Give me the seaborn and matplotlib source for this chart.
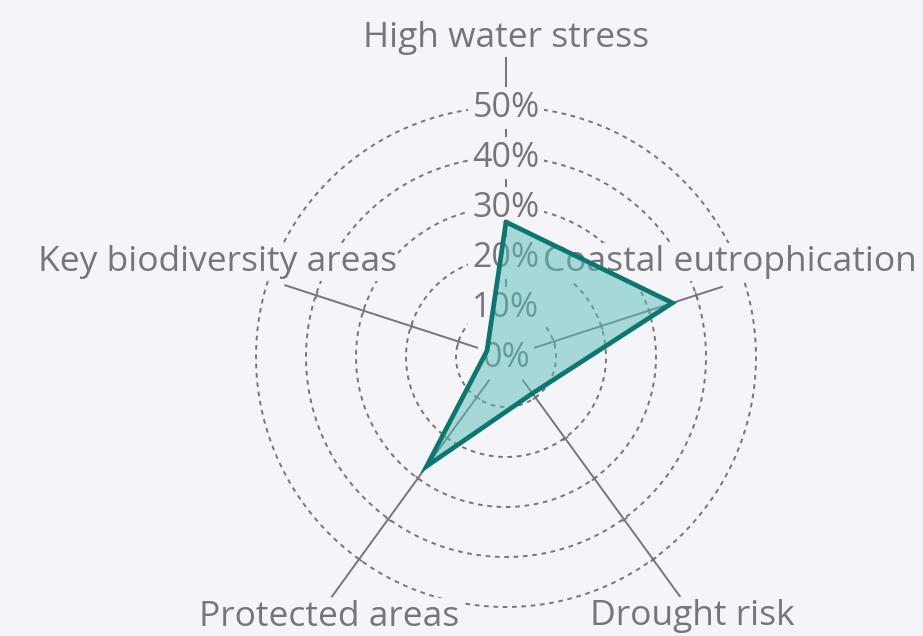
import numpy as np
import matplotlib
matplotlib.use("Agg")
import matplotlib.pyplot as plt
import seaborn as sns

# Share of sites exposed to each nature-related risk (%)
categories = ["High water stress", "Coastal eutrophication", "Drought risk",
              "Protected areas", "Key biodiversity areas"]
values = [27, 35, 9, 27, 4]
ring_levels = [10, 20, 30, 40, 50]
tick_levels = [0, 10, 20, 30, 40, 50]
tick_labels = ["0%", "10%", "20%", "30%", "40%", "50%"]

BG = "#f5f5f9"
GREY = "#76757e"
TEAL = "#0e7670"
FILL = "#57bdb7"

sns.set_theme(style="white")
plt.rcParams["font.family"] = ["Open Sans", "DejaVu Sans"]
FS_TICK = 24.5
FS_CAT = 25.5

W, H, DPI = 923, 636, 100
fig = plt.figure(figsize=(W / DPI, H / DPI), dpi=DPI, facecolor=BG)

# polar pane: centre at (506, 357) px, 5 px per percentage point
R_MAX = 66
PX = 5.0
cx, cy = 506, 357
rad_px = R_MAX * PX
ax = fig.add_axes([(cx - rad_px) / W, (H - cy - rad_px) / H,
                   2 * rad_px / W, 2 * rad_px / H], projection="polar")
ax.set_theta_zero_location("N")
ax.set_theta_direction(-1)
ax.set_ylim(0, R_MAX)
ax.set_axis_off()

n = len(categories)
theta = np.deg2rad(np.arange(n) * 360.0 / n)

# dashed concentric rings
full = np.linspace(0, 2 * np.pi, 400)
for lvl in ring_levels:
    ax.plot(full, np.full_like(full, lvl), color=GREY, lw=1.4,
            ls=(0, (2.4, 2.4)), zorder=1)

# spokes running out towards each category label, with ticks at the rings
spoke_inner = 5.6
spoke_outer = [60, 45.6, 59.6, 59.4, 46.6]
for th, r_out in zip(theta, spoke_outer):
    ax.plot([th, th], [spoke_inner, r_out], color=GREY, lw=1.4,
            solid_capstyle="butt", zorder=1)
    crossings = [lvl for lvl in ring_levels if lvl <= r_out]
    rot = 90 - np.rad2deg(th)
    ax.plot([th] * len(crossings), crossings, ls="none",
            marker=(2, 0, rot), ms=5, mew=1.2, mec=GREY, zorder=1)

# radial value labels along the top spoke
for lvl, txt in zip(tick_levels, tick_labels):
    ax.annotate(txt, xy=(0, lvl), xytext=(0, -1), textcoords="offset pixels",
                ha="center", va="center", fontsize=FS_TICK, color=GREY, zorder=2,
                bbox=dict(boxstyle="square,pad=0.12", fc=BG, ec="none"))

# category labels
label_pos = [(0.0, 62.0), (69.0, 48.0), (145.2, 65.2), (213.3, 64.4), (286.6, 60.3)]
for name, (tdeg, r) in zip(categories, label_pos):
    ax.text(np.deg2rad(tdeg), r, name, ha="center", va="baseline",
            fontsize=FS_CAT, color=GREY, zorder=2,
            bbox=dict(boxstyle="square,pad=0.05", fc=BG, ec="none"))

# filled radar polygon
theta_closed = np.append(theta, theta[0])
vals_closed = np.append(values, values[0])
ax.fill(theta_closed, vals_closed, color=FILL, alpha=0.5, lw=0, zorder=3)
sns.lineplot(x=theta_closed, y=vals_closed, sort=False, estimator=None,
             ax=ax, color=TEAL, lw=3.4, zorder=4, solid_joinstyle="miter")

fig.savefig("out.png", dpi=DPI, facecolor=BG)
